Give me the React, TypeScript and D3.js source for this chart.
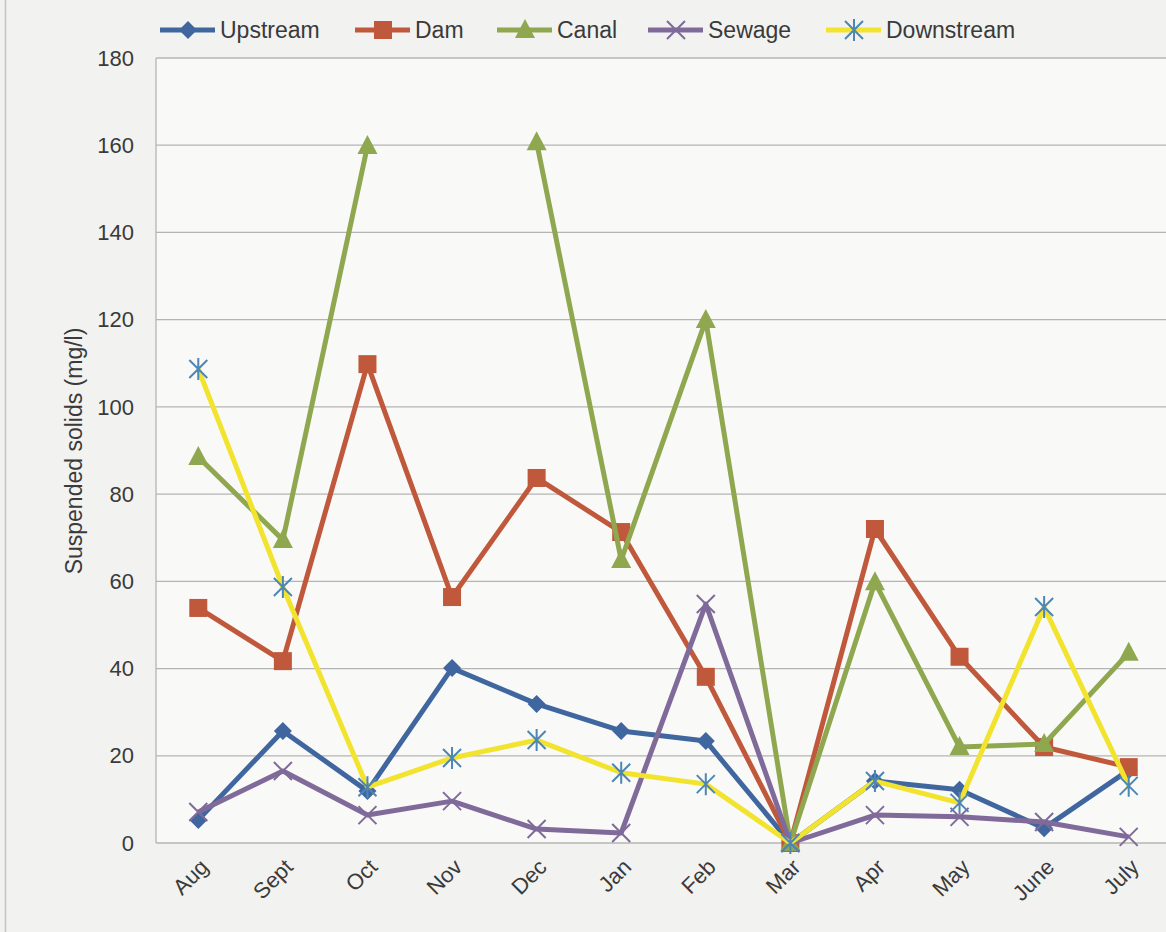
import { useRef, useEffect } from 'react'
import * as d3 from 'd3'

const months = ['Aug', 'Sept', 'Oct', 'Nov', 'Dec', 'Jan', 'Feb', 'Mar', 'Apr', 'May', 'June', 'July']
const yTicks = [0, 20, 40, 60, 80, 100, 120, 140, 160, 180]

const upstream = [5.3, 25.7, 11.9, 40.1, 31.9, 25.7, 23.4, 0, 14.2, 12.2, 3.4, 16.7]
const dam = [53.9, 41.7, 109.8, 56.4, 83.7, 71.3, 38.1, 0, 72, 42.7, 22, 17.4]
const canal: (number | null)[] = [88.5, 69.5, 159.8, null, 160.7, 64.9, 119.9, 0, 59.8, 22, 22.7, 43.6]
const sewage = [7.1, 16.5, 6.4, 9.6, 3.2, 2.3, 54.8, 0, 6.4, 6, 4.8, 1.4]
const downstream = [108.7, 58.7, 12.8, 19.5, 23.6, 16.1, 13.5, 0, 14.2, 9.2, 54.1, 13.1]

type Marker = 'diamond' | 'square' | 'triangle' | 'x' | 'asterisk'

interface Series {
  name: string
  values: (number | null)[]
  color: string
  markerColor: string
  marker: Marker
}

const series: Series[] = [
  { name: 'Upstream', values: upstream, color: '#40669f', markerColor: '#40669f', marker: 'diamond' },
  { name: 'Dam', values: dam, color: '#c0583c', markerColor: '#c0583c', marker: 'square' },
  { name: 'Canal', values: canal, color: '#8fa74f', markerColor: '#8fa74f', marker: 'triangle' },
  { name: 'Sewage', values: sewage, color: '#7f6a9a', markerColor: '#7f6a9a', marker: 'x' },
  { name: 'Downstream', values: downstream, color: '#f2e32e', markerColor: '#4d86b5', marker: 'asterisk' },
]

const legendX = [160, 355, 497, 648, 826]

const W = 1166
const H = 932
const margin = { top: 58, right: -5, bottom: 89, left: 156 }
const FONT = '"Liberation Sans", Arial, sans-serif'
const TEXT = '#3a3a3a'

function drawMarker(g: d3.Selection<SVGGElement, unknown, null, undefined>, kind: Marker, x: number, y: number, color: string) {
  if (kind === 'diamond') {
    const r = 9
    g.append('path').attr('d', `M${x},${y - r}L${x + r},${y}L${x},${y + r}L${x - r},${y}Z`).attr('fill', color)
  } else if (kind === 'square') {
    g.append('rect').attr('x', x - 9).attr('y', y - 9).attr('width', 18).attr('height', 18).attr('fill', color)
  } else if (kind === 'triangle') {
    g.append('path').attr('d', `M${x},${y - 11}L${x + 10},${y + 8}L${x - 10},${y + 8}Z`).attr('fill', color)
  } else if (kind === 'x') {
    const r = 9
    g.append('path').attr('d', `M${x - r},${y - r}L${x + r},${y + r}M${x - r},${y + r}L${x + r},${y - r}`)
      .attr('stroke', color).attr('stroke-width', 2).attr('fill', 'none')
  } else {
    const r = 9
    g.append('path').attr('d', `M${x - r},${y - r}L${x + r},${y + r}M${x - r},${y + r}L${x + r},${y - r}M${x},${y - r - 2}L${x},${y + r + 2}`)
      .attr('stroke', color).attr('stroke-width', 2).attr('fill', 'none')
  }
}

export default function App() {
  const svgRef = useRef<SVGSVGElement>(null)

  useEffect(() => {
    if (!svgRef.current) return
    const svg = d3.select(svgRef.current)
    svg.selectAll('*').remove()

    const x = d3.scalePoint<string>().domain(months).range([margin.left, W - margin.right]).padding(0.5)
    const y = d3.scaleLinear().domain([0, 180]).range([H - margin.bottom, margin.top])

    // backgrounds
    svg.append('rect').attr('width', W).attr('height', H).attr('fill', '#f2f2f0')
    svg.append('line').attr('x1', 5.5).attr('x2', 5.5).attr('y1', 0).attr('y2', H).attr('stroke', '#c4c4c4').attr('stroke-width', 1.5)
    svg.append('rect').attr('x', margin.left).attr('y', margin.top)
      .attr('width', W - margin.left).attr('height', H - margin.bottom - margin.top).attr('fill', '#f9f9f7')

    // grid
    svg.append('g').selectAll('line').data(yTicks).enter().append('line')
      .attr('x1', margin.left).attr('x2', W)
      .attr('y1', d => y(d)).attr('y2', d => y(d))
      .attr('stroke', '#b4b4b4').attr('stroke-width', 1.3)

    svg.append('line').attr('x1', margin.left).attr('x2', margin.left)
      .attr('y1', margin.top).attr('y2', y(0)).attr('stroke', '#b4b4b4').attr('stroke-width', 1.3)

    // y tick labels
    svg.append('g').selectAll('text').data(yTicks).enter().append('text')
      .attr('x', 134).attr('y', d => y(d)).attr('dy', '0.35em')
      .attr('text-anchor', 'end').attr('font-family', FONT).attr('font-size', 22).attr('fill', TEXT)
      .text(d => d)

    // x tick labels
    svg.append('g').selectAll('text').data(months).enter().append('text')
      .attr('transform', d => `translate(${(x(d) ?? 0) + 6},${y(0) + 20}) rotate(-45)`)
      .attr('text-anchor', 'end').attr('dy', '0.35em')
      .attr('font-family', FONT).attr('font-size', 22).attr('fill', TEXT)
      .text(d => d)

    // y title
    svg.append('text')
      .attr('transform', `translate(74,451) rotate(-90)`)
      .attr('text-anchor', 'middle').attr('dy', '0.35em').attr('font-family', FONT).attr('font-size', 23).attr('fill', TEXT)
      .text('Suspended solids (mg/l)')

    const line = d3.line<number | null>()
      .defined(d => d != null)
      .x((_, i) => x(months[i]) ?? 0)
      .y(d => y(d as number))

    series.forEach(s => {
      const g = svg.append('g')
      g.append('path').datum(s.values).attr('d', line)
        .attr('fill', 'none').attr('stroke', s.color).attr('stroke-width', 5).attr('stroke-linejoin', 'round')
      s.values.forEach((v, i) => {
        if (v == null) return
        drawMarker(g as any, s.marker, x(months[i]) ?? 0, y(v), s.markerColor)
      })
    })

    // legend
    const lg = svg.append('g')
    series.forEach((s, i) => {
      const lx = legendX[i]
      lg.append('line').attr('x1', lx).attr('x2', lx + 55).attr('y1', 30).attr('y2', 30)
        .attr('stroke', s.color).attr('stroke-width', 5)
      drawMarker(lg as any, s.marker, lx + 28, 30, s.markerColor)
      lg.append('text').attr('x', lx + 60).attr('y', 30).attr('dy', '0.35em')
        .attr('font-family', FONT).attr('font-size', 23).attr('fill', TEXT).text(s.name)
    })
  }, [])

  return (
    <svg ref={svgRef} width={W} height={H} style={{ position: 'absolute', left: 0, top: 0 }} />
  )
}
